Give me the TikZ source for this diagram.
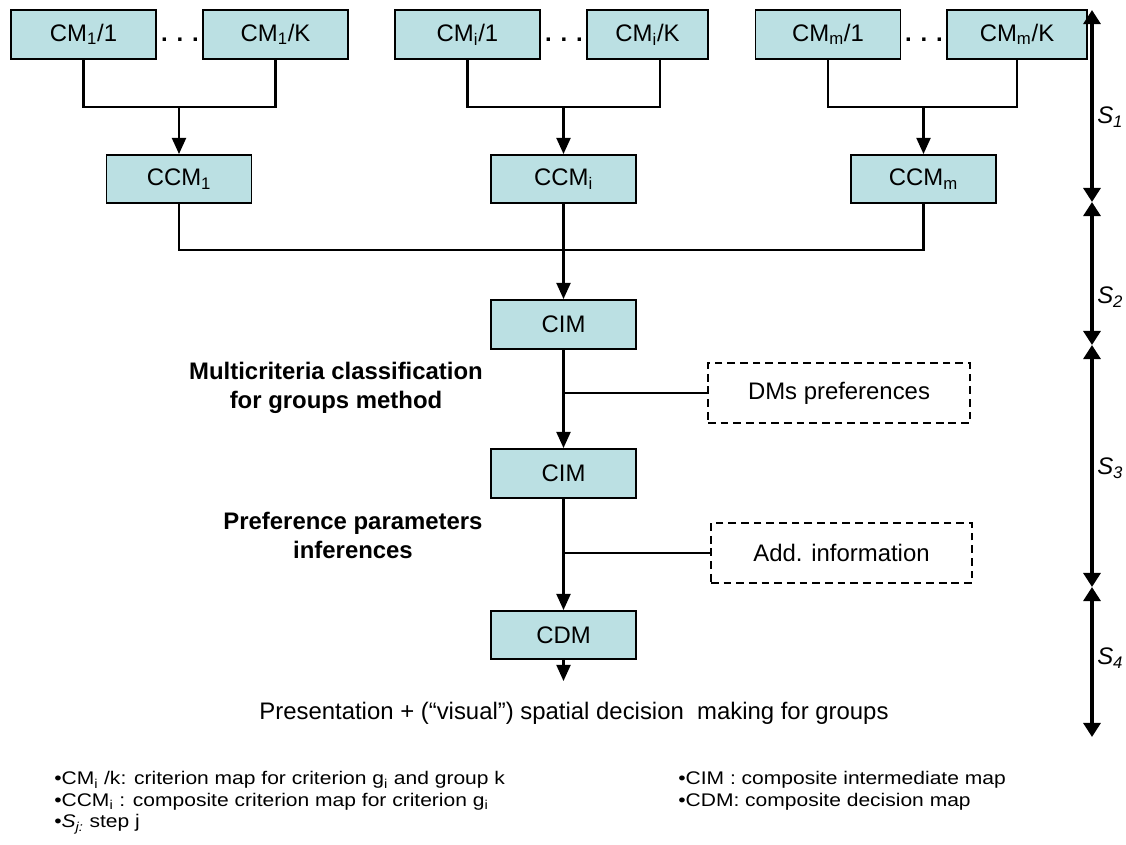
\documentclass[tikz,border=0pt]{standalone}
\usepackage{fontspec}
\setmainfont{Liberation Sans}
\newfontfamily\legendfont[FakeStretch=1.15]{Liberation Sans}
\usetikzlibrary{calc, arrows.meta}
\definecolor{mapfill}{RGB}{187,224,227}
\newcommand{\pxu}{0.025cm}

\begin{document}
\begin{tikzpicture}[x=\pxu, y=-\pxu, font=\fontsize{17}{20}\selectfont,
    mapbox/.style={draw, line width=1.4pt, fill=mapfill, inner sep=0pt, minimum width=145*\pxu, minimum height=49*\pxu},
    infobox/.style={draw, line width=1.1pt, dash pattern=on 5.5pt off 3.5pt, inner sep=0pt, minimum width=262*\pxu, minimum height=60*\pxu},
    link/.style={line width=1.5pt},
    thinlink/.style={line width=1pt},
    arr/.style={line width=1.5pt, -{Triangle[length=11.5pt,width=10pt]}},
    steparr/.style={line width=3pt, {Triangle[length=10pt,width=12pt]}-{Triangle[length=10pt,width=12pt]}},
    steplabel/.style={anchor=west, inner sep=0pt},
    note/.style={anchor=west, inner sep=0pt, text height=9pt, text depth=2.5pt, font=\legendfont\fontsize{13}{14}\selectfont}]
            \useasboundingbox (0,0) rectangle (1126,844);
            \node[mapbox] (cm11) at (83.5,34.5) {CM\textsubscript{1}/1};
            \node[mapbox] (cm1K) at (275.5,34.5) {CM\textsubscript{1}/K};
            \node[mapbox] (cmi1) at (467.5,34.5) {CM\textsubscript{i}/1};
            \node[mapbox, minimum width=121*\pxu] (cmiK) at (647.5,34.5) {CM\textsubscript{i}/K};
            \node[mapbox] (cmm1) at (828,34.5) {CM\textsubscript{m}/1};
            \node[mapbox, minimum width=140*\pxu] (cmmK) at (1017,34.5) {CM\textsubscript{m}/K};
            \node (dots1) at (180,40) {\textbf{. . .}};
            \node (dotsi) at (564,40) {\textbf{. . .}};
            \node (dotsm) at (924,40) {\textbf{. . .}};
            \node[mapbox, minimum height=48*\pxu] (ccm1) at (179,179) {CCM\textsubscript{1}};
            \node[mapbox, minimum height=48*\pxu] (ccmi) at (563.5,179) {CCM\textsubscript{i}};
            \node[mapbox, minimum height=48*\pxu] (ccmm) at (923.5,179) {CCM\textsubscript{m}};
            \node[mapbox] (cim1) at (563.5,324.5) {CIM};
            \node[mapbox] (cim2) at (563.5,473.5) {CIM};
            \node[mapbox, minimum height=48*\pxu] (cdm) at (563.5,635) {CDM};
            \node[infobox] (dms) at (839,393) {DMs preferences};
            \node[infobox, minimum width=261*\pxu] (addinfo) at (841.5,553) {Add. information};
            \node[align=center, font=\fontsize{17}{20.6}\selectfont\bfseries] (mcgm) at (336,388) {Multicriteria classification\\for groups method};
            \node[align=center, font=\fontsize{17}{20.6}\selectfont\bfseries] (ppi) at (353,535) {Preference parameters\\inferences};
            \node (present) at (574,713) {Presentation + (“visual”) spatial decision~ making for groups};
            \coordinate (j1) at (179,107);
            \coordinate (ji) at (563.5,107);
            \coordinate (jm) at (923.5,107);
            \coordinate (jc) at (563.5,250);
            \coordinate (cdmout) at (563.5,681);
            \draw[link] (cm11) |- (j1) -| (cm1K);
            \draw[arr] (j1) -- (ccm1);
            \draw[link] (cmi1) |- (ji) -| ($(cmiK.south)+(12.5,0)$);
            \draw[arr] (ji) -- (ccmi);
            \draw[link] (cmm1) |- (jm) -| (cmmK);
            \draw[arr] (jm) -- (ccmm);
            \draw[link] (ccm1) |- (jc) -| (ccmm);
            \draw[arr] (ccmi) -- (cim1);
            \draw[arr] (cim1) -- (cim2);
            \draw[thinlink] (dms) -- (dms -| cim1);
            \draw[arr] (cim2) -- (cdm);
            \draw[thinlink] (addinfo) -- (addinfo -| cim2);
            \draw[arr] (cdm) -- (cdmout);
            \coordinate (s0) at (1092,10);
            \coordinate (s1) at (1092,202);
            \coordinate (s2) at (1092,345);
            \coordinate (s3) at (1092,587);
            \coordinate (s4) at (1092,737);
            \draw[steparr] (s0) -- (s1);
            \draw[steparr] (s1) -- (s2);
            \draw[steparr] (s2) -- (s3);
            \draw[steparr] (s3) -- (s4);
            \node[steplabel] (lab1) at (1097,117) {\textit{S\textsubscript{1}}};
            \node[steplabel] (lab2) at (1097,297) {\textit{S\textsubscript{2}}};
            \node[steplabel] (lab3) at (1097,468) {\textit{S\textsubscript{3}}};
            \node[steplabel] (lab4) at (1097,658) {\textit{S\textsubscript{4}}};
            \node[note] (leg1) at (54,780) {•CM\textsubscript{i} /k: criterion map for criterion g\textsubscript{i} and group k};
            \node[note] (leg2) at (54,801.5) {•CCM\textsubscript{i} : composite criterion map for criterion g\textsubscript{i}};
            \node[note] (leg3) at (54,823) {•\textit{S\textsubscript{j:}} step j};
            \node[note] (leg4) at (678,780) {•CIM : composite intermediate map};
            \node[note] (leg5) at (678,801.5) {•CDM: composite decision map};
        \end{tikzpicture}
\end{document}
